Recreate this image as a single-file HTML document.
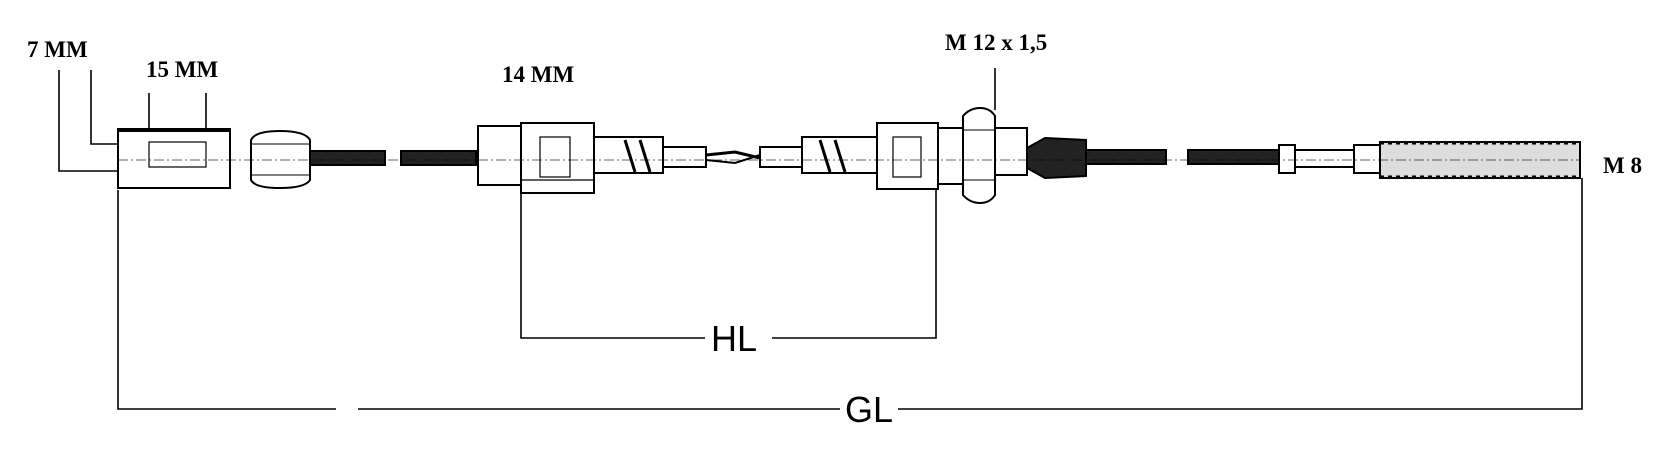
<!DOCTYPE html>
<html><head><style>
html,body{margin:0;padding:0;background:#fff;}
svg{display:block}
.t{font-family:"Liberation Serif",serif;font-weight:bold;font-size:23px;fill:#000}
.s{font-family:"Liberation Sans",sans-serif;font-size:36px;fill:#000}
</style></head><body>
<svg width="1668" height="471" viewBox="0 0 1668 471" xmlns="http://www.w3.org/2000/svg">
<g fill="none" stroke="#000" stroke-width="1.6">
<polyline points="118,190 118,409 336,409"/>
<line x1="358" y1="409" x2="840" y2="409"/>
<polyline points="898,409 1582,409 1582,178"/>
<polyline points="521,190 521,338 705,338"/>
<polyline points="772,338 936,338 936,190"/>
<polyline points="91,70 91,144 118,144"/>
<polyline points="59,70 59,171 118,171"/>
<line x1="149" y1="93" x2="149" y2="142"/>
<line x1="206" y1="93" x2="206" y2="142"/>
<line x1="995" y1="68" x2="995" y2="110"/>
</g>
<g stroke="#000" stroke-width="2" fill="#fff">
<rect x="118" y="129" width="112" height="59"/>
<rect x="149" y="142" width="57" height="25" stroke-width="1.2"/>
<line x1="118" y1="130" x2="230" y2="130" stroke-width="4"/>
<path d="M251,140 Q255,131 280,131 Q305,131 310,140 L310,180 Q305,188 280,188 Q255,188 251,180 Z"/>
<line x1="251" y1="144" x2="310" y2="144" stroke-width="1"/>
<line x1="251" y1="175" x2="310" y2="175" stroke-width="1"/>
<rect x="310" y="151" width="75" height="14" fill="#222"/>
<rect x="401" y="151" width="75" height="14" fill="#222"/>
<rect x="478" y="126" width="46" height="59"/>
<rect x="521" y="123" width="73" height="70"/>
<rect x="540" y="137" width="30" height="40" stroke-width="1.2"/>
<line x1="521" y1="180" x2="594" y2="180" stroke-width="1.2"/>
<rect x="594" y="137" width="69" height="36"/>
<path d="M625,140 L635,172 M640,140 L650,172" stroke-width="3"/>
<rect x="663" y="147" width="43" height="20"/>
<path d="M706,155 L735,152 L760,158" stroke-width="3" fill="none"/>
<path d="M706,160 L735,163 L760,155" stroke-width="2" fill="none"/>
<rect x="760" y="147" width="42" height="20"/>
<rect x="802" y="137" width="75" height="36"/>
<path d="M820,140 L830,172 M835,140 L845,172" stroke-width="3"/>
<rect x="877" y="123" width="61" height="66"/>
<rect x="893" y="137" width="28" height="40" stroke-width="1.2"/>
<rect x="938" y="128" width="25" height="56"/>
<path d="M963,116 Q970,108 980,108 Q990,108 995,116 L995,195 Q990,203 980,203 Q970,203 963,195 Z"/>
<line x1="963" y1="130" x2="995" y2="130" stroke-width="1"/>
<line x1="963" y1="180" x2="995" y2="180" stroke-width="1"/>
<rect x="995" y="128" width="32" height="47"/>
<path d="M1027,148 L1045,138 L1086,140 L1086,176 L1045,178 L1027,168 Z" fill="#222"/>
<rect x="1086" y="150" width="80" height="14" fill="#222"/>
<rect x="1188" y="150" width="91" height="14" fill="#222"/>
<rect x="1279" y="145" width="16" height="28"/>
<rect x="1295" y="150" width="59" height="17"/>
<rect x="1354" y="145" width="26" height="28"/>
<rect x="1380" y="142" width="200" height="36" fill="#ddd"/>
<line x1="1380" y1="143" x2="1580" y2="143" stroke-width="3" stroke-dasharray="4,4"/>
<line x1="1380" y1="177" x2="1580" y2="177" stroke-width="3" stroke-dasharray="4,4"/>
</g>
<line x1="118" y1="160" x2="1580" y2="160" stroke="#000" stroke-width="1" stroke-dasharray="10,3,2,3" opacity="0.6"/>
<text class="t" x="27" y="57">7 MM</text>
<text class="t" x="146" y="77">15 MM</text>
<text class="t" x="502" y="82">14 MM</text>
<text class="t" x="945" y="50">M 12 x 1,5</text>
<text class="t" x="1603" y="173">M 8</text>
<text class="s" x="711" y="351">HL</text>
<text class="s" x="845" y="422">GL</text>
</svg>
</body></html>
